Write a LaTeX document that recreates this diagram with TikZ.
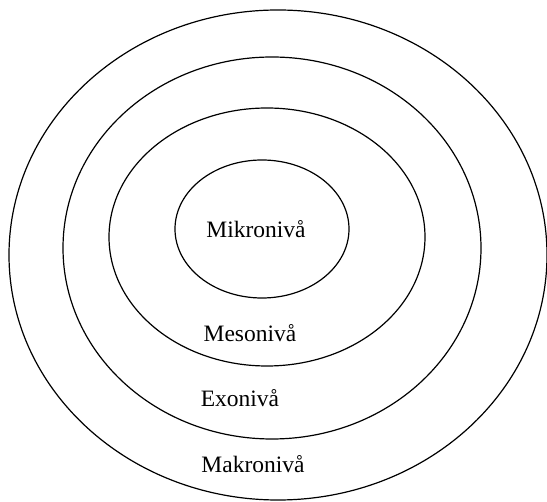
\documentclass[tikz,border=0pt]{standalone}
\usepackage{fontspec}
\setmainfont{Liberation Serif}
\usetikzlibrary{shapes.geometric}

\begin{document}
\begin{tikzpicture}[x=1pt, y=-1pt, font=\fontsize{23.5}{28}\selectfont,
    ring/.style={draw=black, ellipse, line width=1.2pt, inner sep=0pt, outer sep=0pt},
    lvl/.style={anchor=base, inner sep=0pt}]
    \useasboundingbox (0,0) rectangle (547,502);

    \foreach \n/\x/\y/\w/\h in {makro/278/255/538/490, exo/272/248/418/382,
                               meso/267/237/316/258, mikro/262/229/174/138}
      \node[ring, minimum width=\w pt, minimum height=\h pt] (\n) at (\x,\y) {};

    \node[lvl] (lmikro) at (256,238) {Mikronivå};
    \node[lvl] (lmeso)  at (250,342) {Mesonivå};
    \node[lvl] (lexo)   at (240,407) {Exonivå};
    \node[lvl] (lmakro) at (253,473) {Makronivå};
  \end{tikzpicture}
\end{document}
